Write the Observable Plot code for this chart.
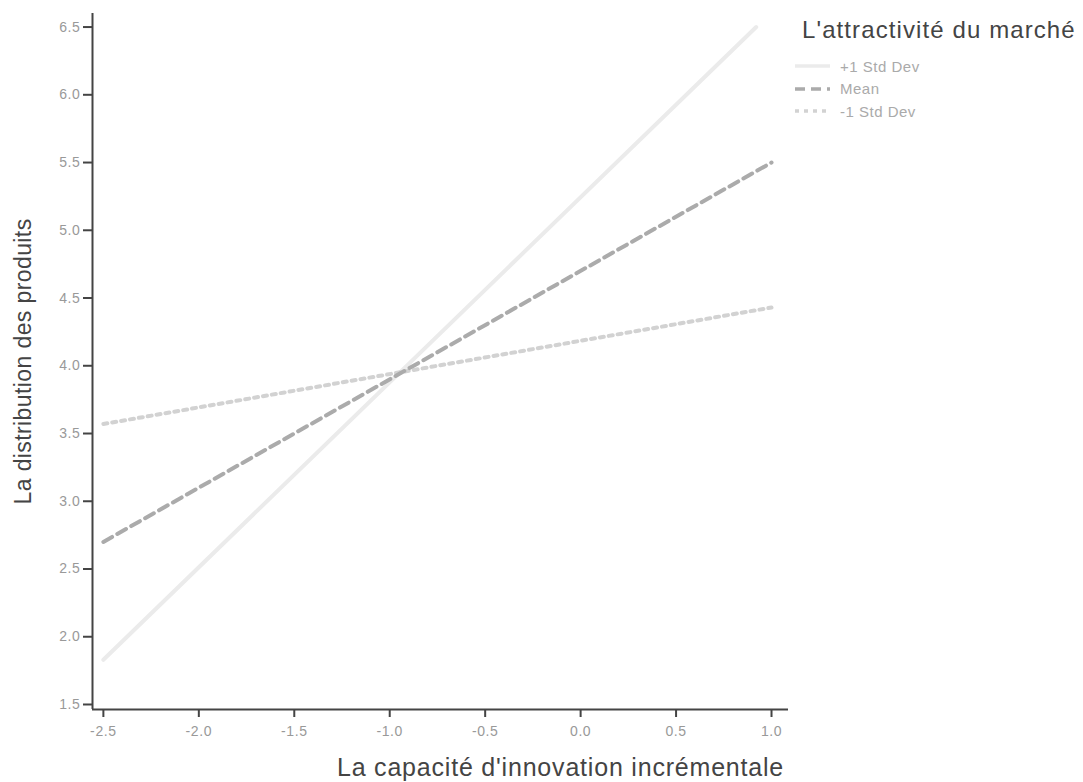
<!DOCTYPE html>
<html>
<head>
<meta charset="utf-8">
<script src="https://cdn.jsdelivr.net/npm/d3@7"></script>
<script src="https://cdn.jsdelivr.net/npm/@observablehq/plot@0.6"></script>
<style>
  html, body { margin: 0; padding: 0; background: #fff; }
  #wrap { position: relative; width: 1083px; height: 782px; overflow: hidden; font-family: Arial, "Liberation Sans", sans-serif; }
  #legend { position: absolute; left: 795px; top: 15px; }
  #legend .title { font-size: 24px; color: #444; letter-spacing: 1.1px; margin-left: 7px; line-height: 30px; }
  #legend .item { display: flex; align-items: center; height: 22.5px; font-size: 15px; color: #aaa; letter-spacing: 0.5px; }
  #legend .item svg { margin-right: 8px; }
</style>
</head>
<body>
<div id="wrap">
  <div id="chart"></div>
  <div id="legend"></div>
</div>
<script>
// Series (x = innovation capacity, y = product distribution)
const seriesNames = ["+1 Std Dev", "Mean", "-1 Std Dev"];
const plusX = [-2.5, 0.92];
const plusY = [1.83, 6.5];
const meanX = [-2.5, 1.0];
const meanY = [2.70, 5.50];
const minusX = [-2.5, 1.0];
const minusY = [3.57, 4.43];
const xTicks = [-2.5, -2.0, -1.5, -1.0, -0.5, 0.0, 0.5, 1.0];
const yTicks = [1.5, 2.0, 2.5, 3.0, 3.5, 4.0, 4.5, 5.0, 5.5, 6.0, 6.5];
const xLabel = "La capacité d'innovation incrémentale";
const yLabel = "La distribution des produits";
const legendTitle = "L'attractivité du marché";

const styles = {
  "+1 Std Dev": {stroke: "#ebebeb", dash: null},
  "Mean": {stroke: "#ababab", dash: "10,6"},
  "-1 Std Dev": {stroke: "#d2d2d2", dash: "4,5"}
};

const toRows = (xs, ys, name) => xs.map((x, i) => ({x, y: ys[i], series: name}));
const plusRows = toRows(plusX, plusY, seriesNames[0]);
const meanRows = toRows(meanX, meanY, seriesNames[1]);
const minusRows = toRows(minusX, minusY, seriesNames[2]);
const fmt = d => d.toFixed(1);

const chart = Plot.plot({
  width: 1083,
  height: 782,
  marginLeft: 92,
  marginRight: 295,
  marginTop: 13,
  marginBottom: 73,
  style: {fontFamily: "Arial, 'Liberation Sans', sans-serif", background: "#fff"},
  x: {domain: [-2.557, 1.089]},
  y: {domain: [1.463, 6.60]},
  marks: [
    Plot.line(plusRows, {x: "x", y: "y", stroke: styles["+1 Std Dev"].stroke, strokeWidth: 4}),
    Plot.line(minusRows, {x: "x", y: "y", stroke: styles["-1 Std Dev"].stroke, strokeWidth: 4, strokeDasharray: styles["-1 Std Dev"].dash}),
    Plot.line(meanRows, {x: "x", y: "y", stroke: styles["Mean"].stroke, strokeWidth: 4, strokeDasharray: styles["Mean"].dash}),
    Plot.ruleX([-2.557], {stroke: "#444", strokeWidth: 2}),
    Plot.ruleY([1.463], {stroke: "#444", strokeWidth: 2}),
    Plot.axisX({ticks: xTicks, tickFormat: fmt, tickSize: 8, tickPadding: 9, stroke: "#444", strokeWidth: 2, fill: "#999", fontSize: 14, label: null}),
    Plot.axisY({ticks: yTicks, tickFormat: fmt, tickSize: 9, tickPadding: 3, stroke: "#444", strokeWidth: 2, fill: "#999", fontSize: 14, label: null}),
    Plot.text([xLabel], {frameAnchor: "bottom", dy: 58, dx: 120, text: d => d, fontSize: 25, fill: "#444", lineAnchor: "middle", textAnchor: "middle"}),
    Plot.text([yLabel], {frameAnchor: "left", dx: -69, text: d => d, fontSize: 23, fill: "#444", rotate: -90, lineAnchor: "middle", textAnchor: "middle"})
  ]
});
document.getElementById("chart").appendChild(chart);
const labels = d3.select(chart).selectAll("g[aria-label='text'] text");
labels.filter(function() { return this.textContent === xLabel; }).style("letter-spacing", "0.8px");
labels.filter(function() { return this.textContent === yLabel; }).style("letter-spacing", "0.4px");
d3.select(chart).selectAll("g[aria-label='x-axis tick label'] text, g[aria-label='y-axis tick label'] text").style("letter-spacing", "0.6px");

// Legend
const legend = d3.select("#legend");
legend.append("div").attr("class", "title").text(legendTitle);
const box = legend.append("div").style("margin-top", "10px");
seriesNames.forEach(name => {
  const it = box.append("div").attr("class", "item");
  const s = it.append("svg").attr("width", 37).attr("height", 10);
  s.append("line").attr("x1", 0).attr("x2", 35).attr("y1", 5).attr("y2", 5)
    .attr("stroke", styles[name].stroke).attr("stroke-width", 3.5)
    .attr("stroke-dasharray", styles[name].dash);
  it.append("span").text(name);
});
</script>
</body>
</html>
